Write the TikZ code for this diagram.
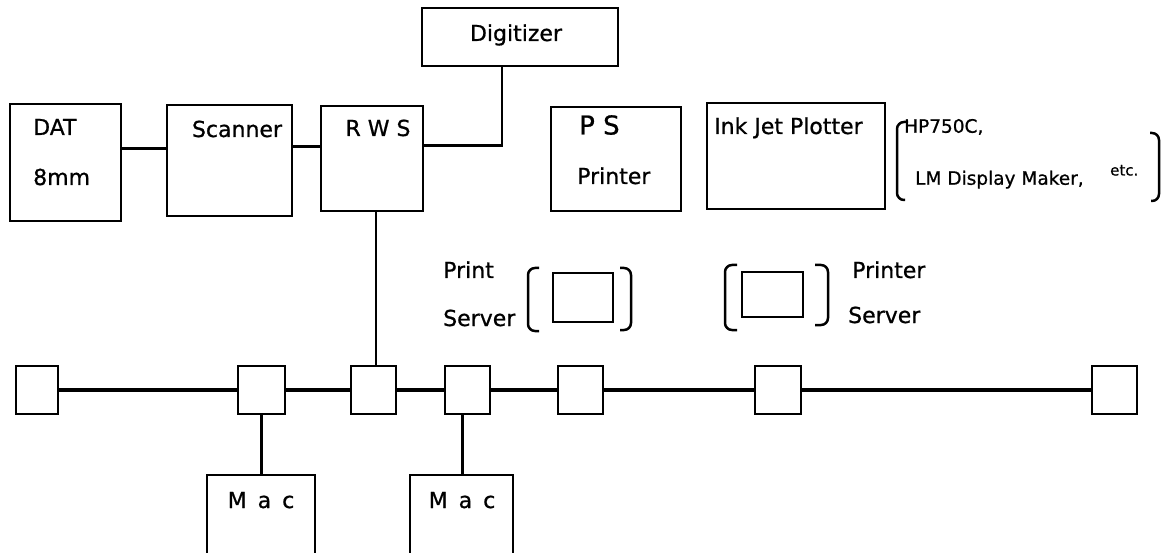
\documentclass[tikz,border=0pt]{standalone}
\usepackage{fontspec}
\newfontfamily\netfont[FakeBold=0.8]{DejaVu Sans}

\begin{document}
\begin{tikzpicture}[
    x=1pt, y=-1pt,
    box/.style={draw, line width=2.5pt, inner sep=0pt},
    tap/.style={box, minimum width=45pt, minimum height=48pt},
    lbl/.style={inner sep=0pt, text height=16pt, text depth=0pt, font=\netfont\fontsize{22}{26}\selectfont},
    note/.style={lbl, text height=13.5pt, font=\netfont\fontsize{18.5}{22}\selectfont},
    link/.style={line width=2.5pt},
    bus/.style={line width=3.4pt},
    brace/.style={line width=2.5pt, rounded corners=7pt}
]
\path[use as bounding box, clip] (0,0) rectangle (1164,553);

% devices on the workstation
\node[box, minimum width=196pt, minimum height=58pt] (digi) at (520,37) {};
\node[box, minimum width=111pt, minimum height=117pt] (dat) at (65.5,162.5) {};
\node[box, minimum width=125pt, minimum height=111pt] (scan) at (229.5,160.5) {};
\node[box, minimum width=102pt, minimum height=105pt] (rws) at (372,158.5) {};
\node[box, minimum width=130pt, minimum height=104pt] (ps) at (616,159) {};
\node[box, minimum width=178pt, minimum height=106pt] (ink) at (796,156) {};

\node[lbl] (digiT) at (516,33) {Digitizer};
\node[lbl, anchor=west] (datT) at (33,127) {DAT};
\node[lbl, anchor=west] (mmT) at (33,177) {8mm};
\node[lbl] (scanT) at (237,129) {Scanner};
\node[lbl] (rwsT) at (378,128) {R W S};
\node[lbl, anchor=west, text height=19pt, font=\netfont\fontsize{26}{30}\selectfont] (psT) at (579,125) {P S};
\node[lbl, anchor=west] (prT) at (577,176) {Printer};
\node[lbl, anchor=west] (inkT) at (714,126) {Ink Jet Plotter};
\node[note, anchor=west] (hpT) at (904,126) {HP750C,};
\node[note, anchor=west] (lmT) at (915,178) {LM Display Maker,};
\node[note, anchor=west, text height=11pt, font=\netfont\fontsize{15}{18}\selectfont] (etcT) at (1110,170) {etc.};
\draw[brace] (908,122) -- (897,122) -- (897,200) -- (905,200);
\draw[brace] (1150,133) -- (1159,133) -- (1159,201) -- (1151,201);

% print servers
\node[box, minimum width=60pt, minimum height=49pt] (srvA) at (583,297.5) {};
\node[box, minimum width=61pt, minimum height=45pt] (srvB) at (772.5,294.5) {};
\draw[brace] (539,268) -- (528,268) -- (528,331) -- (539,331);
\draw[brace] (620,268) -- (631,268) -- (631,330) -- (620,330);
\draw[brace] (737,265) -- (725,265) -- (725,330) -- (737,330);
\draw[brace] (815,265) -- (828,265) -- (828,325) -- (815,325);
\node[lbl, anchor=west] (srvAT) at (443,270) {Print};
\node[lbl, anchor=west] (srvAS) at (443,318) {Server};
\node[lbl, anchor=west] (srvBT) at (852,270) {Printer};
\node[lbl, anchor=west] (srvBS) at (848,315) {Server};

% network taps
\node[tap, minimum width=42pt] (tap1) at (37,390) {};
\node[tap, minimum width=47pt] (tap2) at (261.5,390) {};
\node[tap] (tap3) at (373.5,390) {};
\node[tap] (tap4) at (467.5,390) {};
\node[tap] (tap5) at (580.5,390) {};
\node[tap, minimum width=46pt] (tap6) at (778,390) {};
\node[tap] (tap7) at (1114.5,390) {};

% macs
\node[box, minimum width=108pt, minimum height=125pt] (mac1) at (261,537.5) {};
\node[box, minimum width=103pt, minimum height=125pt] (mac2) at (461.5,537.5) {};
\node[lbl] (mac1T) at (261,500) {M\enspace a\enspace c};
\node[lbl] (mac2T) at (462,500) {M\enspace a\enspace c};

\draw[link] ([yshift=14pt]dat.east) -- ([yshift=14pt]dat.east -| scan.west);
\draw[link] ([yshift=14pt]scan.east) -- ([yshift=14pt]scan.east -| rws.west);
\draw[link] ([yshift=13pt]rws.east) -| ([xshift=-18pt]digi.south);
\draw[link] ([xshift=4pt]rws.south) -- ([xshift=4pt]rws.south |- tap3.north);
\draw[link] (tap2.south) -- (tap2.south |- mac1.north);
\draw[link] ([xshift=-5pt]tap4.south) -- ([xshift=-5pt]tap4.south |- mac2.north);
\draw[bus] (tap1) -- (tap2);
\draw[bus] (tap2) -- (tap3);
\draw[bus] (tap3) -- (tap4);
\draw[bus] (tap4) -- (tap5);
\draw[bus] (tap5) -- (tap6);
\draw[bus] (tap6) -- (tap7);
\end{tikzpicture}
\end{document}
